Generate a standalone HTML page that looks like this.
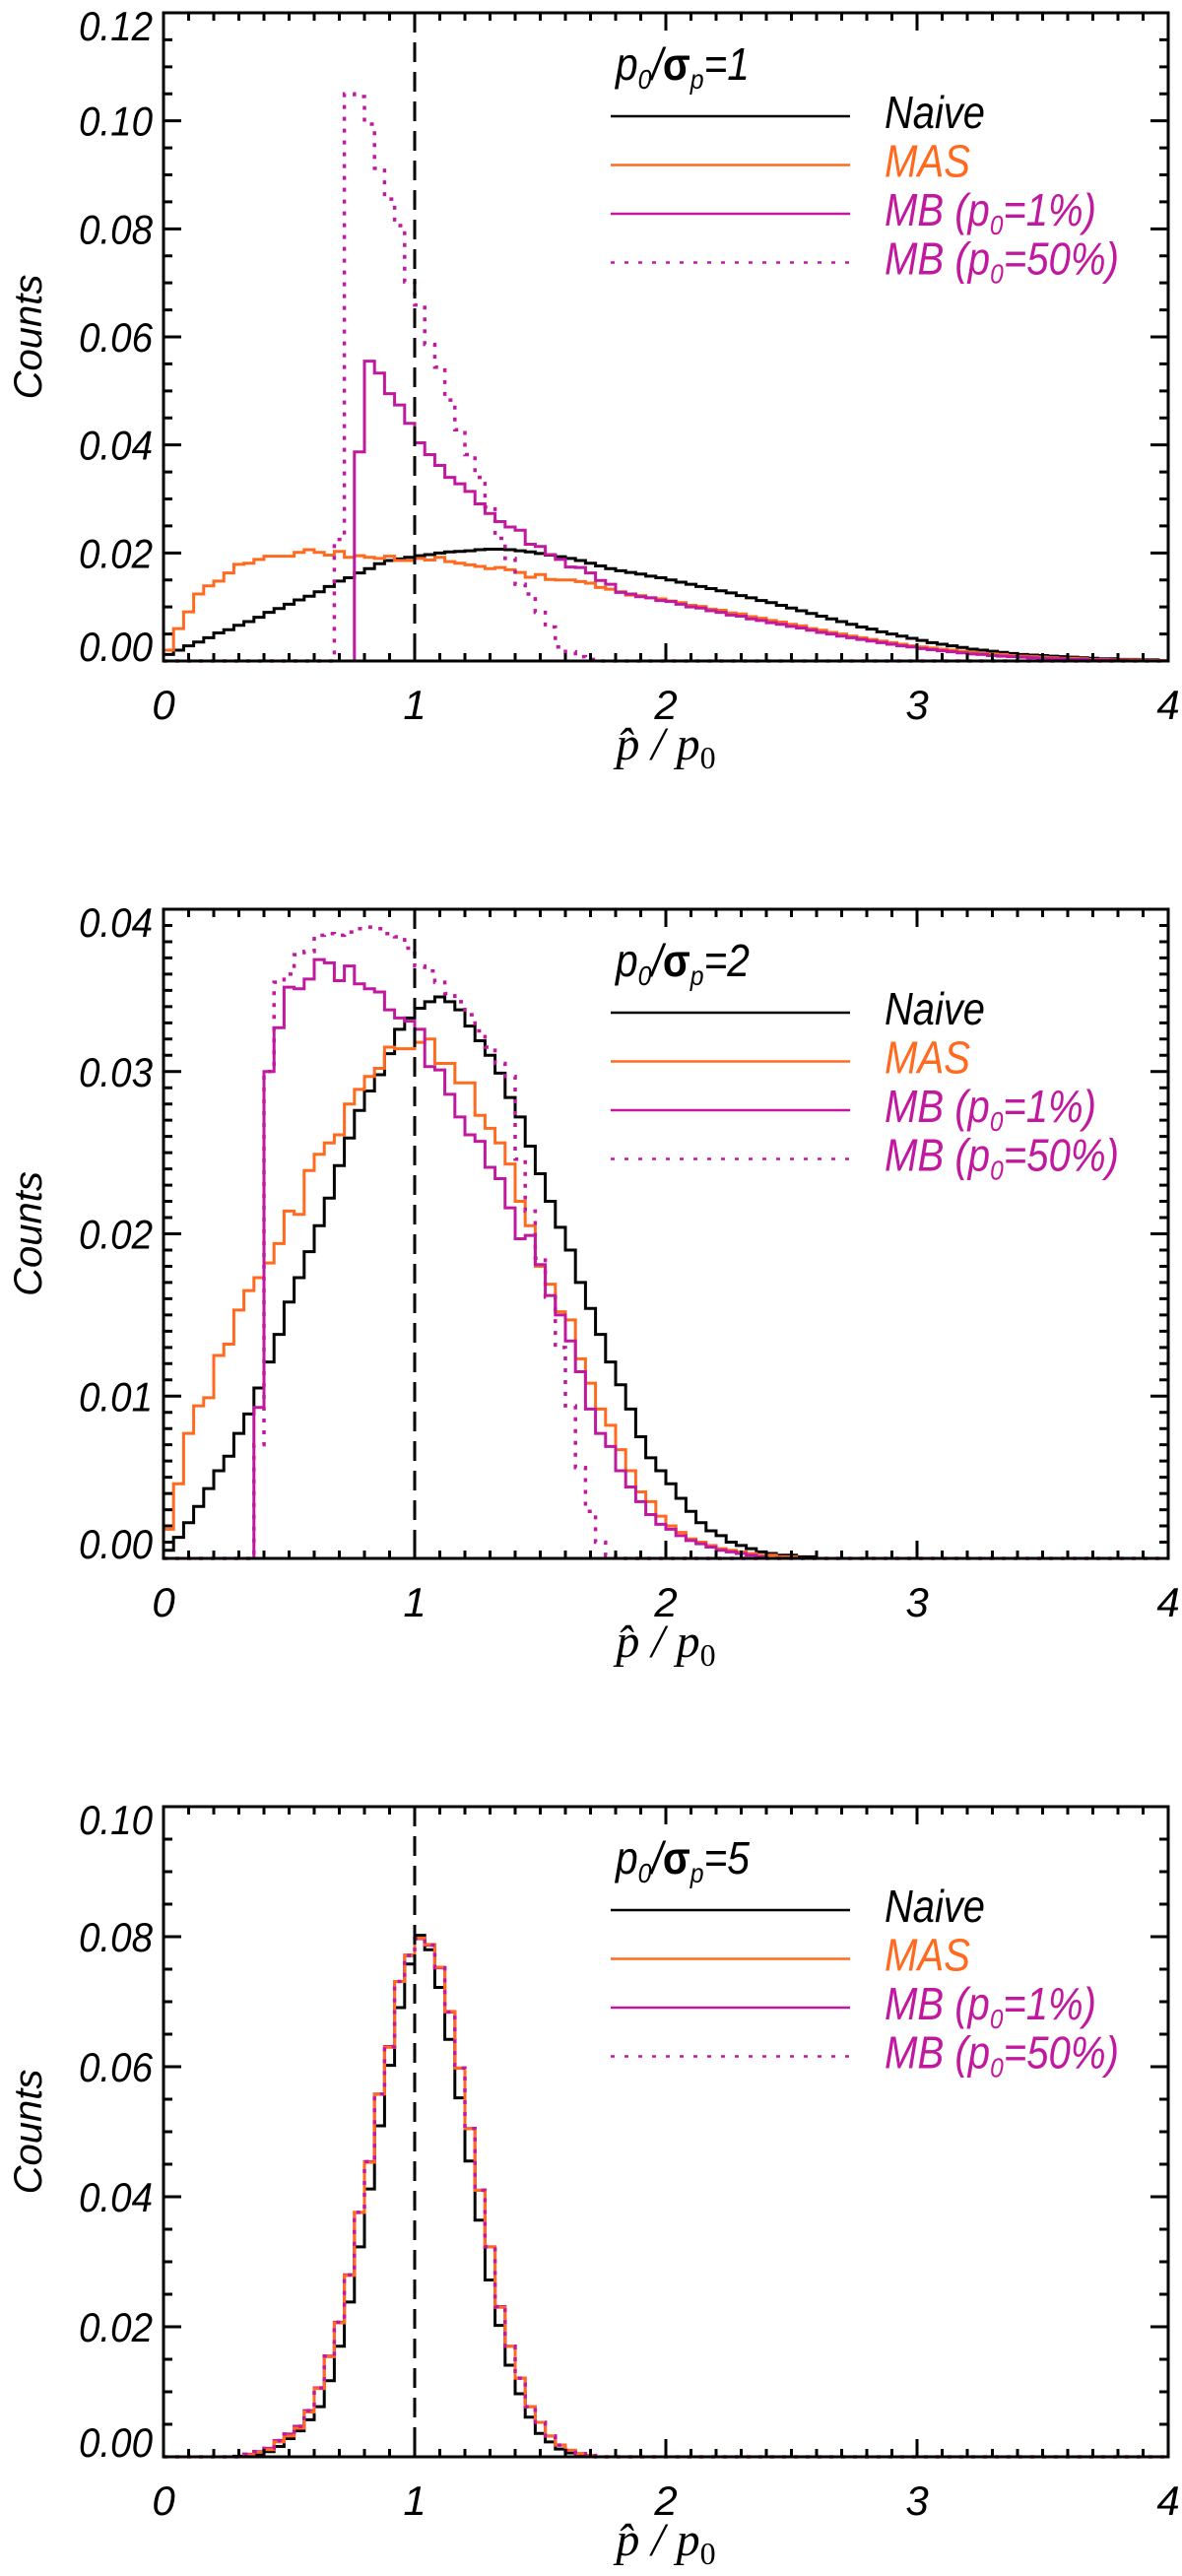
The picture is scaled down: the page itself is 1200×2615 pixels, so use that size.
<!DOCTYPE html>
<html><head><meta charset="utf-8"><title>Histograms</title>
<style>
html,body{margin:0;padding:0;background:#fff;}
svg{display:block;}
text{font-family:"Liberation Sans",sans-serif;font-style:italic;}
</style></head>
<body>
<svg id="fig" width="1200" height="2615" viewBox="0 0 1200 2615" xmlns="http://www.w3.org/2000/svg"></svg>
<script>
// ---------- data (bin width 0.04 over 0..4) ----------
const binWidth = 0.04;
const xTickLabels = ["0","1","2","3","4"];
const yTickLabels1 = ["0.00","0.02","0.04","0.06","0.08","0.10","0.12"];
const yTickLabels2 = ["0.00","0.01","0.02","0.03","0.04"];
const yTickLabels3 = ["0.00","0.02","0.04","0.06","0.08","0.10"];
const legendTitles = ["1","2","5"];

const naive1 = [0.0012,0.0020,0.0028,0.0035,0.0043,0.0052,0.0058,0.0066,0.0073,0.0081,0.0090,0.0097,0.0105,0.0113,0.0120,0.0128,0.0138,0.0148,0.0154,0.0163,0.0171,
0.0180,0.0186,0.0189,0.0192,0.0195,0.0197,0.0200,0.0202,0.0203,0.0204,0.0206,0.0207,0.0207,0.0206,0.0204,0.0202,0.0199,0.0196,0.0193,0.0190,0.0186,0.0181,0.0176,0.0171,
0.0167,0.0164,0.0161,0.0157,0.0154,0.0150,0.0146,0.0142,0.0138,0.0134,0.0130,0.0126,0.0121,0.0117,0.0112,0.0108,0.0103,0.0098,0.0093,0.0088,0.0083,0.0078,0.0073,0.0068,0.0063,0.0059,0.0054,0.0050,0.0046,0.0042,0.0038,0.0034,0.0031,0.0028,0.0025,0.0022,0.0020,0.0018,0.0016,0.0014,0.0012,0.0011,0.0010,0.0009,0.0008,0.0007,0.0006,0.0005,0.0004,0.0004,0.0003,0.0003,0.0002,0.0002,0.0001];
const mas1 = [0.0020,0.0060,0.0091,0.0124,0.0139,0.0148,0.0163,0.0179,0.0181,0.0188,0.0194,0.0194,0.0194,0.0201,0.0206,0.0201,0.0196,0.0203,0.0192,
0.0195,0.0192,0.0190,0.0194,0.0186,0.0186,0.0190,0.0187,0.0192,0.0184,0.0181,0.0178,0.0175,0.0171,0.0173,0.0169,0.0164,0.0155,0.0160,0.0151,0.0150,0.0150,0.0147,0.0144,0.0136,0.0133,0.0128,0.0122,
0.0121,0.0117,0.0115,0.0111,0.0108,0.0103,0.0101,0.0096,0.0094,0.0089,0.0087,0.0082,0.0079,0.0075,0.0072,0.0068,0.0065,0.0060,0.0057,0.0053,0.0050,0.0046,0.0043,0.0040,0.0037,0.0034,0.0031,0.0028,0.0026,0.0024,0.0022,0.0020,0.0018,0.0016,0.0014,0.0013,0.0012,0.0010,0.0009,0.0008,0.0007,0.0006,0.0005,0.0005,0.0004,0.0003,0.0003,0.0002,0.0002,0.0002,0.0001,0.0001,0.0001];
const mb1p1 = [0,0,0,0,0,0,0,0,0,0,0,0,0,0,0,0,0,0,0,
0.0387,0.0555,0.0533,0.0495,0.0474,0.0440,0.0404,0.0382,0.0362,0.0340,0.0328,0.0314,0.0291,0.0273,0.0258,0.0248,0.0242,0.0216,0.0212,0.0197,0.0188,0.0174,0.0173,0.0163,0.0149,0.0142,0.0127,
0.0124,0.0119,0.0117,0.0112,0.0110,0.0105,0.0100,0.0098,0.0093,0.0090,0.0085,0.0083,0.0078,0.0075,0.0071,0.0068,0.0064,0.0061,0.0057,0.0053,0.0050,0.0046,0.0043,0.0040,0.0037,0.0034,0.0031,0.0028,0.0026,0.0023,0.0021,0.0019,0.0017,0.0015,0.0013,0.0012,0.0010,0.0009,0.0008,0.0007,0.0006,0.0005,0.0004,0.0004,0.0003,0.0003,0.0002,0.0002,0.0001,0.0001];
const mb50p1 = [0,0,0,0,0,0,0,0,0,0,0,0,0,0,0,0,0,
0.0225,0.1050,0.1045,0.0994,0.0912,0.0855,0.0806,0.0702,0.0659,0.0586,0.0544,0.0483,0.0428,0.0382,0.0340,0.0285,0.0227,0.0190,0.0142,0.0124,0.0090,0.0063,0.0026,0.0017,0.0008,0.0003];

const naive2 = [0.0005,0.0013,0.0022,0.0032,0.0043,0.0054,0.0063,0.0077,0.0089,0.0105,0.0121,0.0138,0.0158,0.0173,0.0189,0.0205,0.0222,0.0242,0.0259,0.0276,
0.0288,0.0298,0.0311,0.0326,0.0333,0.0339,0.0343,0.0346,0.0343,0.0338,0.0328,0.0319,0.0310,0.0299,0.0284,0.0272,0.0254,0.0237,0.0220,0.0204,
0.0190,0.0170,0.0154,0.0138,0.0121,0.0107,0.0092,0.0075,0.0062,0.0054,0.0046,0.0037,0.0029,0.0022,0.0017,0.0014,0.0010,0.0008,0.0006,0.0004,0.0003,0.0002,0.0002,0.0001,0.0001];
const mas2 = [0.0018,0.0046,0.0077,0.0094,0.0099,0.0125,0.0132,0.0153,0.0165,0.0173,0.0182,0.0194,0.0214,0.0212,0.0239,0.0249,0.0256,0.0261,0.0280,0.0289,
0.0297,0.0302,0.0315,0.0314,0.0314,0.0318,0.0320,0.0305,0.0305,0.0293,0.0293,0.0273,0.0265,0.0256,0.0243,0.0220,0.0205,0.0180,0.0169,0.0152,
0.0147,0.0123,0.0108,0.0092,0.0082,0.0067,0.0054,0.0041,0.0035,0.0026,0.0020,0.0016,0.0012,0.0010,0.0008,0.0006,0.0005,0.0004,0.0003,0.0002,0.0002,0.0001,0.0001];
const mb1p2 = [0,0,0,0,0,0,0,0,0,
0.0093,0.0300,0.0327,0.0352,0.0351,0.0357,0.0369,0.0367,0.0356,0.0365,0.0354,0.0351,0.0349,0.0338,0.0333,0.0331,0.0326,0.0303,0.0301,0.0286,0.0272,0.0261,0.0257,0.0241,0.0234,0.0216,0.0197,0.0199,0.0181,0.0162,0.0150,0.0134,0.0115,0.0092,0.0077,0.0069,0.0054,0.0044,0.0035,0.0027,0.0021,0.0018,0.0014,0.0011,0.0009,0.0007,0.0005,0.0004,0.0003,0.0002,0.0001];
const mb50p2 = [0,0,0,0,0,0,0,0,0,
0.0070,0.0300,0.0355,0.0360,0.0372,0.0374,0.0384,0.0385,0.0384,0.0386,0.0388,0.0389,0.0388,0.0385,0.0383,0.0376,0.0365,0.0362,0.0355,0.0348,0.0343,0.0335,0.0325,0.0315,0.0305,0.0297,0.0246,0.0214,0.0185,0.0161,0.0130,0.0094,0.0056,0.0029,0.0010,0.0002];

const naive3 = [0,0,0,0,0,0,0,0.0001,0.0002,0.0004,
0.0008,0.0016,0.0028,0.0040,0.0057,0.0077,0.0117,0.0170,0.0238,0.0323,0.0412,0.0509,0.0602,0.0691,0.0758,0.0802,0.0780,0.0722,0.0642,0.0552,0.0455,0.0364,0.0272,0.0202,0.0141,0.0097,0.0061,0.0036,0.0023,0.0012,0.0006,0.0003,0.0002];
const mas3 = [0,0,0,0,0,0,0,0,0.0003,0.0007,
0.0011,0.0023,0.0032,0.0044,0.0069,0.0105,0.0154,0.0206,0.0279,0.0376,0.0453,0.0558,0.0630,0.0731,0.0772,0.0798,0.0788,0.0753,0.0685,0.0598,0.0505,0.0410,0.0323,0.0230,0.0170,0.0121,0.0077,0.0053,0.0032,0.0018,0.0010,0.0005,0.0002];
const mb1p3 = [0,0,0,0,0,0,0,0,0.0004,0.0008,
0.0013,0.0025,0.0035,0.0047,0.0071,0.0106,0.0155,0.0207,0.0280,0.0376,0.0454,0.0558,0.0631,0.0731,0.0771,0.0797,0.0787,0.0752,0.0684,0.0598,0.0505,0.0410,0.0323,0.0231,0.0170,0.0121,0.0077,0.0053,0.0032,0.0018,0.0010,0.0005,0.0002];
const mb50p3 = [0,0,0,0,0,0,0,0,0.0004,0.0008,
0.0013,0.0025,0.0035,0.0047,0.0071,0.0106,0.0155,0.0207,0.0280,0.0376,0.0454,0.0558,0.0631,0.0731,0.0771,0.0797,0.0787,0.0752,0.0684,0.0598,0.0505,0.0410,0.0323,0.0231,0.0170,0.0121,0.0077,0.0053,0.0032,0.0018,0.0010,0.0005,0.0002];

// ---------- layout ----------
const NS = "http://www.w3.org/2000/svg";
const svg = document.getElementById("fig");
const X0 = 166, X1 = 1186, XMAX = 4;
const ORANGE = "#FF6A1F", MAGENTA = "#C0189E";
const panels = [
  {top:13, bottom:671, ymax:0.12, major:0.02, minor:0.005, labels:yTickLabels1, series:[naive1,mas1,mb1p1,mb50p1], title:legendTitles[0], order:[0,1,2,3]},
  {top:923, bottom:1582, ymax:0.04, major:0.01, minor:0.001, labels:yTickLabels2, series:[naive2,mas2,mb1p2,mb50p2], title:legendTitles[1], order:[0,1,2,3]},
  {top:1834, bottom:2494, ymax:0.10, major:0.02, minor:0.005, labels:yTickLabels3, series:[naive3,mas3,mb1p3,mb50p3], title:legendTitles[2], order:[0,2,1,3]}
];
const seriesNames = ["naive","mas","mb-1pct","mb-50pct"];
const seriesColors = ["#000", ORANGE, MAGENTA, MAGENTA];

function mk(tag, attrs, parent){
  const e = document.createElementNS(NS, tag);
  for (const k in attrs) e.setAttribute(k, attrs[k]);
  (parent||svg).appendChild(e);
  return e;
}
function xScale(v){ return X0 + (X1 - X0) * v / XMAX; }

panels.forEach((p, pi) => {
  const yScale = v => p.bottom - (p.bottom - p.top) * v / p.ymax;
  const g = mk("g", {});
  
  

  const clipId = "clip" + pi;
  const cp = mk("clipPath", {id: clipId}, g);
  mk("rect", {x: X0, y: p.top, width: X1 - X0, height: p.bottom - p.top + 2}, cp);

  const hg = mk("g", {"clip-path": "url(#" + clipId + ")"}, g);
  p.order.forEach(si => {
    const vals = p.series[si];
    const n = Math.round(XMAX / binWidth);
    const val = i => (i < vals.length ? vals[i] : 0);
    let d = "M" + xScale(0) + "," + yScale(val(0));
    for (let i = 0; i < n; i++) {
      d += " H" + xScale((i+1)*binWidth).toFixed(2);
      if (i + 1 < n) d += " V" + yScale(val(i+1)).toFixed(2);
    }
    const path = mk("path", {d: d, fill: "none", stroke: seriesColors[si], "stroke-width": 3, "stroke-linejoin": "miter"}, hg);
    if (si === 3) { path.setAttribute("stroke-dasharray", "4 8"); path.setAttribute("stroke-width", 3.5); }
    
    
  });

  const ref = mk("line", {x1: xScale(1), x2: xScale(1), y1: p.top, y2: p.bottom, stroke: "#000", "stroke-width": 3, "stroke-dasharray": "20 10"}, g);
  
  

  const frame = mk("rect", {x: X0, y: p.top, width: X1 - X0, height: p.bottom - p.top, fill: "none", stroke: "#000", "stroke-width": 3}, g);
  
  

  let td = "";
  for (let k = 0; k <= 40; k++) {
    const xv = xScale(k * 0.1);
    const len = (k % 10 === 0) ? 18 : 8;
    td += "M" + xv + "," + p.bottom + " v" + (-len) + " M" + xv + "," + p.top + " v" + len + " ";
  }
  const nMinor = Math.round(p.ymax / p.minor);
  const per = Math.round(p.major / p.minor);
  for (let k = 0; k <= nMinor; k++) {
    const yv = yScale(k * p.minor);
    const len = (k % per === 0) ? 18 : 9;
    td += "M" + X0 + "," + yv + " h" + len + " M" + X1 + "," + yv + " h" + (-len) + " ";
  }
  const ticks = mk("path", {d: td, stroke: "#000", "stroke-width": 3, fill: "none"}, g);
  
  

  xTickLabels.forEach((lab, i) => {
    const t = mk("text", {x: xScale(i), y: p.bottom + 59, "font-size": 42, "text-anchor": "middle"}, g);
    t.textContent = lab;
    
    
  });
  p.labels.forEach((lab, i) => {
    const yv = yScale(i * p.major);
    let by = yv + 15;
    if (i === 0) by = p.bottom;
    if (i === p.labels.length - 1) by = p.top + 28;
    const t = mk("text", {x: 155, y: by, "font-size": 42, "text-anchor": "end", textLength: 75, lengthAdjust: "spacingAndGlyphs"}, g);
    t.textContent = lab;
    
    
  });

  const cy = (p.top + p.bottom) / 2;
  const yt = mk("text", {x: 42, y: cy, "font-size": 40, "text-anchor": "middle", transform: "rotate(-90 42 " + cy + ")"}, g);
  yt.textContent = "Counts";
  
  

  const xt = mk("text", {x: 676, y: p.bottom + 100, "font-size": 48, "text-anchor": "middle", style: "font-family:'Liberation Serif',serif;font-style:italic"}, g);
  
  
  const xt1 = mk("tspan", {}, xt); xt1.textContent = "p\u0302 / p";
  const xt2 = mk("tspan", {dy: 9, "font-size": 32, style: "font-style:normal"}, xt); xt2.textContent = "0";

  const lg = mk("g", {}, g);
  
  
  const tt = mk("text", {x: 625, y: p.top + 68, "font-size": 46, textLength: 136, lengthAdjust: "spacingAndGlyphs"}, lg);
  
  
  const a1 = mk("tspan", {}, tt); a1.textContent = "p";
  const a2 = mk("tspan", {dy: 9, "font-size": 28}, tt); a2.textContent = "0";
  const a3 = mk("tspan", {dy: -9}, tt); a3.textContent = "/";
  const a4 = mk("tspan", {style: "font-style:normal;font-weight:bold"}, tt); a4.textContent = "\u03C3";
  const a5 = mk("tspan", {dy: 9, "font-size": 28}, tt); a5.textContent = "p";
  const a6 = mk("tspan", {dy: -9}, tt); a6.textContent = "=" + p.title;

  const entries = [
    {label: "Naive", color: "#000", w: 102},
    {label: "MAS", color: ORANGE, w: 87},
    {label: "MB (p|=1%)", color: MAGENTA, w: 215},
    {label: "MB (p|=50%)", color: MAGENTA, w: 238, dotted: true}
  ];
  entries.forEach((en, k) => {
    const ly = p.top + 105 + k * 49.5;
    const ln = mk("line", {x1: 620, x2: 863, y1: ly, y2: ly, stroke: en.color, "stroke-width": 2.5}, lg);
    if (en.dotted) ln.setAttribute("stroke-dasharray", "4 10");
    
    
    const tx = mk("text", {x: 898, y: ly + 12, "font-size": 46, fill: en.color, textLength: en.w, lengthAdjust: "spacingAndGlyphs"}, lg);
    
    
    const parts = en.label.split("|");
    if (parts.length === 1) { tx.textContent = en.label; }
    else {
      const s1 = mk("tspan", {}, tx); s1.textContent = parts[0];
      const s2 = mk("tspan", {dy: 9, "font-size": 28}, tx); s2.textContent = "0";
      const s3 = mk("tspan", {dy: -9}, tx); s3.textContent = parts[1];
    }
  });
});
</script>
</body></html>
